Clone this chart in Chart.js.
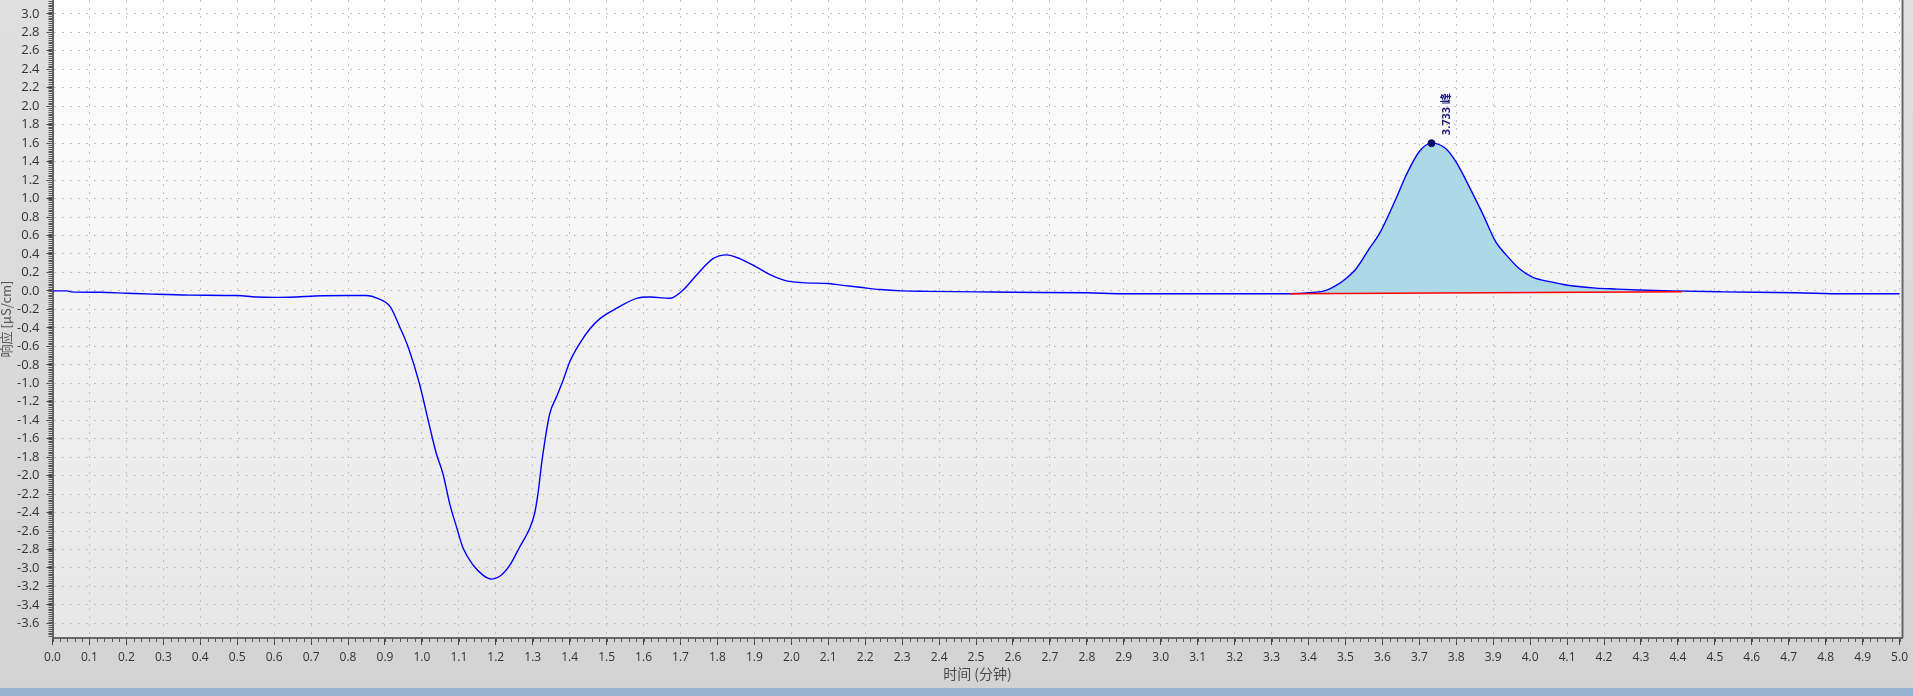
<!DOCTYPE html>
<html>
<head>
<meta charset="utf-8">
<script src="https://cdn.jsdelivr.net/npm/chart.js@4/dist/chart.umd.min.js"></script>
<style>
html,body{margin:0;padding:0;background:#d8d8d8;overflow:hidden}
#wrap{position:relative;width:1913px;height:696px}
#strip{position:absolute;left:0;top:688px;width:1913px;height:8px;background:#95b3d1}
</style>
</head>
<body>
<div id="wrap"><canvas id="c" width="1913" height="696"></canvas><div id="strip"></div></div>
<script>
// ---- data ----
const timeMin = [0.00,0.04,0.05,0.13,0.20,0.27,0.37,0.50,0.55,0.60,0.66,0.71,0.80,0.85,0.88,0.914,0.94,0.963,0.993,1.021,1.039,1.057,1.075,1.094,1.112,1.139,1.166,1.188,1.211,1.238,1.265,1.292,1.305,1.314,1.324,1.333,1.346,1.364,1.382,1.400,1.427,1.455,1.482,1.526,1.581,1.617,1.671,1.707,1.743,1.788,1.824,1.860,1.905,1.941,1.982,2.03,2.10,2.14,2.185,2.24,2.30,2.37,2.50,2.60,2.80,2.90,3.30,3.35,3.40,3.443,3.475,3.50,3.529,3.565,3.592,3.637,3.664,3.700,3.733,3.772,3.799,3.835,3.871,3.907,3.935,3.971,4.006,4.03,4.061,4.09,4.124,4.178,4.236,4.295,4.38,4.52,4.72,4.85,5.00];
const response = [0.00,0.00,-0.01,-0.015,-0.025,-0.035,-0.045,-0.05,-0.065,-0.07,-0.065,-0.055,-0.05,-0.05,-0.08,-0.17,-0.39,-0.61,-1.00,-1.47,-1.76,-1.98,-2.30,-2.56,-2.79,-2.97,-3.08,-3.12,-3.09,-2.97,-2.77,-2.57,-2.41,-2.20,-1.87,-1.62,-1.33,-1.15,-0.97,-0.77,-0.57,-0.41,-0.30,-0.19,-0.08,-0.065,-0.08,0.01,0.17,0.35,0.39,0.35,0.26,0.18,0.115,0.09,0.08,0.06,0.04,0.015,0.0,-0.005,-0.01,-0.015,-0.02,-0.03,-0.03,-0.03,-0.02,0.0,0.06,0.13,0.24,0.46,0.62,1.00,1.25,1.51,1.60,1.54,1.40,1.13,0.84,0.53,0.39,0.24,0.15,0.12,0.095,0.07,0.05,0.03,0.02,0.01,0.0,-0.01,-0.02,-0.03,-0.03];
const baselineTime = [3.35, 4.41];
const baselineResp = [-0.03, -0.008];
const peakTime = [3.733];
const peakResp = [1.60];
const peakLabels = ['3.733 峰'];
const xTickValues = [0.0,0.1,0.2,0.3,0.4,0.5,0.6,0.7,0.8,0.9,1.0,1.1,1.2,1.3,1.4,1.5,1.6,1.7,1.8,1.9,2.0,2.1,2.2,2.3,2.4,2.5,2.6,2.7,2.8,2.9,3.0,3.1,3.2,3.3,3.4,3.5,3.6,3.7,3.8,3.9,4.0,4.1,4.2,4.3,4.4,4.5,4.6,4.7,4.8,4.9,5.0];
const yTickValues = [-3.6,-3.4,-3.2,-3.0,-2.8,-2.6,-2.4,-2.2,-2.0,-1.8,-1.6,-1.4,-1.2,-1.0,-0.8,-0.6,-0.4,-0.2,0.0,0.2,0.4,0.6,0.8,1.0,1.2,1.4,1.6,1.8,2.0,2.2,2.4,2.6,2.8,3.0];
const xTitle = '时间 (分钟)';
const yTitle = '响应 [μS/cm]';

// ---- derived tables ----
const curvePts = timeMin.map((t, i) => ({x: t, y: response[i]}));
const fillPts = curvePts.filter(p => p.x >= baselineTime[0] && p.x <= baselineTime[1]);
const basePts = baselineTime.map((t, i) => ({x: t, y: baselineResp[i]}));
const peakPts = peakTime.map((t, i) => ({x: t, y: peakResp[i]}));

Chart.defaults.font.family = '"Open Sans", "Noto Sans CJK SC", sans-serif';

const bgPlugin = {
  id: 'bg',
  beforeDraw(chart) {
    const {ctx, chartArea: ca, width, height} = chart;
    ctx.save();
    let g = ctx.createLinearGradient(0, 0, 0, height);
    g.addColorStop(0, '#e0e0e0');
    g.addColorStop(1, '#d3d3d3');
    ctx.fillStyle = g;
    ctx.fillRect(0, 0, width, height);
    g = ctx.createLinearGradient(0, ca.top, 0, ca.bottom);
    g.addColorStop(0, '#ffffff');
    g.addColorStop(1, '#e6e6e6');
    ctx.fillStyle = g;
    ctx.fillRect(ca.left, ca.top, ca.right - ca.left, ca.bottom - ca.top);
    ctx.restore();
  }
};

const decoPlugin = {
  id: 'deco',
  afterDraw(chart) {
    const {ctx, chartArea: ca, scales: {x, y}} = chart;
    ctx.save();
    ctx.strokeStyle = '#555';
    ctx.lineWidth = 1;
    ctx.beginPath();
    for (let i = 0; i <= 250; i++) {
      const px = Math.round(x.getPixelForValue(i * 0.02)) + 0.5;
      if (px > ca.right) break;
      ctx.moveTo(px, ca.bottom);
      ctx.lineTo(px, ca.bottom + 4);
    }
    for (let i = -190; i <= 160; i++) {
      const py = Math.round(y.getPixelForValue(i * 0.02)) + 0.5;
      if (py < ca.top || py > ca.bottom) continue;
      ctx.moveTo(ca.left - 4, py);
      ctx.lineTo(ca.left, py);
    }
    ctx.stroke();
    // right frame
    ctx.strokeStyle = '#666';
    ctx.lineWidth = 2;
    ctx.beginPath();
    ctx.moveTo(ca.right, ca.top);
    ctx.lineTo(ca.right, ca.bottom);
    ctx.stroke();
    // peak labels
    const meta = chart.getDatasetMeta(3);
    meta.data.forEach((pt, i) => {
      ctx.save();
      ctx.translate(pt.x + 15, pt.y - 8);
      ctx.rotate(-Math.PI / 2);
      ctx.font = 'bold 11px "Open Sans", "Noto Sans CJK SC", sans-serif';
      ctx.fillStyle = '#1e1e78';
      ctx.textAlign = 'left';
      ctx.textBaseline = 'middle';
      ctx.fillText(peakLabels[i], 0, 0);
      ctx.restore();
    });
    ctx.restore();
  }
};

new Chart(document.getElementById('c'), {
  type: 'line',
  data: {
    datasets: [
      {data: curvePts, borderColor: '#0000ff', borderWidth: 1.4, pointRadius: 0, cubicInterpolationMode: 'monotone', fill: false, order: 1},
      {data: fillPts, borderWidth: 0, borderColor: 'rgba(0,0,0,0)', backgroundColor: '#add8e6', pointRadius: 0, cubicInterpolationMode: 'monotone', fill: 2, order: 3},
      {data: basePts, borderColor: '#ff0000', borderWidth: 1.5, pointRadius: 0, fill: false, order: 0},
      {data: peakPts, showLine: false, pointRadius: 3.5, pointBackgroundColor: '#0b0b6b', pointBorderColor: '#0b0b6b', fill: false, order: -1}
    ]
  },
  options: {
    responsive: false,
    animation: false,
    devicePixelRatio: 1,
    layout: {autoPadding: false, padding: {left: 0, right: 8, top: 0, bottom: 0}},
    plugins: {legend: {display: false}, tooltip: {enabled: false}},
    scales: {
      x: {
        type: 'linear',
        min: 0,
        max: 5.008,
        afterBuildTicks: s => { s.ticks = xTickValues.map(v => ({value: v})); },
        afterFit: s => { s.height = 58; },
        ticks: {autoSkip: false, maxRotation: 0, color: '#333', font: {size: 12}, padding: 5, callback: v => Number(v).toFixed(1)},
        grid: {color: '#c2c2c2', lineWidth: 1, drawTicks: true, tickLength: 7, tickColor: '#444', tickWidth: 1},
        border: {display: true, color: '#666', width: 2, dash: [2, 6]},
        title: {display: true, text: xTitle, color: '#4a4a4a', font: {size: 14, family: '"Noto Sans CJK SC", sans-serif', lineHeight: 1.2}, padding: {top: 0, bottom: 14}}
      },
      y: {
        type: 'linear',
        min: -3.758,
        max: 3.15,
        afterBuildTicks: s => { s.ticks = yTickValues.map(v => ({value: v})); },
        afterFit: s => { s.width = 52.5; s.paddingTop = 0; s.paddingBottom = 0; },
        ticks: {autoSkip: false, color: '#333', font: {size: 13}, padding: 7, callback: v => Number(v).toFixed(1)},
        grid: {color: '#c2c2c2', lineWidth: 1, drawTicks: true, tickLength: 6, tickColor: '#444', tickWidth: 1},
        border: {display: true, color: '#666', width: 2, dash: [2, 6]},
        title: {display: true, text: yTitle, color: '#555', font: {size: 13, family: '"Noto Sans CJK SC", sans-serif', lineHeight: 1.0}, padding: {top: 0, bottom: 0}}
      }
    }
  },
  plugins: [bgPlugin, decoPlugin]
});
</script>
</body>
</html>
